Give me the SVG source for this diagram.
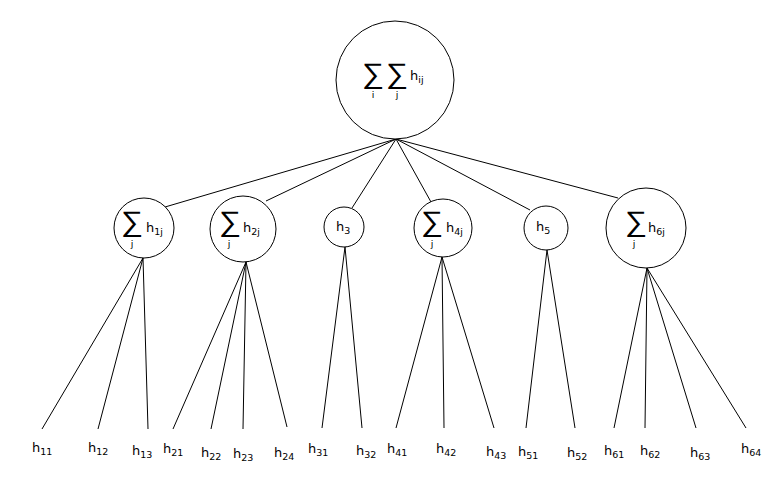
<svg xmlns="http://www.w3.org/2000/svg" width="784" height="482" viewBox="0 0 784 482">
  <style>
    .node { fill: #ffffff; stroke: #000000; stroke-width: 1; }
    .edge { stroke: #000000; stroke-width: 1; fill: none; }
    text { font-family: "DejaVu Sans", "Liberation Sans", sans-serif; fill: #000000; }
    .h { font-size: 13px; }
    .sub { font-size: 9.5px; }
    .sum { font-size: 27px; font-weight: 200; }
    .idx { font-size: 9.5px; text-anchor: middle; }
  </style>
  <rect width="784" height="482" fill="#ffffff"/>

  <!-- connectors -->
  <g id="connectors">
    <!-- root to second level -->
    <line class="edge" x1="396" y1="139" x2="165" y2="207"/>
    <line class="edge" x1="396" y1="139" x2="266" y2="201"/>
    <line class="edge" x1="396" y1="139" x2="352" y2="208"/>
    <line class="edge" x1="396" y1="139" x2="431" y2="202"/>
    <line class="edge" x1="396" y1="139" x2="530" y2="210"/>
    <line class="edge" x1="396" y1="139" x2="618" y2="198"/>
    <!-- second level to leaves -->
    <line class="edge" x1="143" y1="258" x2="42" y2="429"/>
    <line class="edge" x1="143" y1="258" x2="98" y2="429"/>
    <line class="edge" x1="143" y1="258" x2="148" y2="429"/>
    <line class="edge" x1="246" y1="262" x2="173" y2="429"/>
    <line class="edge" x1="246" y1="262" x2="211" y2="429"/>
    <line class="edge" x1="246" y1="262" x2="243" y2="429"/>
    <line class="edge" x1="246" y1="262" x2="287" y2="427"/>
    <line class="edge" x1="345" y1="247" x2="322" y2="428"/>
    <line class="edge" x1="345" y1="247" x2="362" y2="428"/>
    <line class="edge" x1="442" y1="257" x2="396" y2="428"/>
    <line class="edge" x1="442" y1="257" x2="444" y2="428"/>
    <line class="edge" x1="442" y1="257" x2="494" y2="428"/>
    <line class="edge" x1="547" y1="250" x2="526" y2="428"/>
    <line class="edge" x1="547" y1="250" x2="575" y2="428"/>
    <line class="edge" x1="647" y1="268" x2="614" y2="428"/>
    <line class="edge" x1="647" y1="268" x2="645" y2="428"/>
    <line class="edge" x1="647" y1="268" x2="696" y2="428"/>
    <line class="edge" x1="647" y1="268" x2="746" y2="428"/>
  </g>

  <!-- root: double sum -->
  <g id="root">
    <circle class="node" cx="395" cy="80" r="59"/>
    <text class="sum" transform="translate(362,83) scale(1.15,1.05)">∑</text>
    <text class="sum" transform="translate(386,83) scale(1.15,1.05)">∑</text>
    <text class="idx" x="373" y="98">i</text>
    <text class="idx" x="397" y="98">j</text>
    <text class="h" x="410" y="80">h<tspan class="sub" dy="3">ij</tspan></text>
  </g>

  <!-- second level -->
  <g id="n1">
    <circle class="node" cx="144" cy="228" r="30"/>
    <text class="sum" transform="translate(121,231) scale(1.15,1.05)">∑</text>
    <text class="idx" x="132" y="247">j</text>
    <text class="h" x="146" y="232">h<tspan class="sub" dy="3">1j</tspan></text>
  </g>
  <g id="n2">
    <circle class="node" cx="243" cy="229" r="33"/>
    <text class="sum" transform="translate(219,231) scale(1.15,1.05)">∑</text>
    <text class="idx" x="229" y="247">j</text>
    <text class="h" x="243" y="232">h<tspan class="sub" dy="3">2j</tspan></text>
  </g>
  <g id="n3">
    <circle class="node" cx="344" cy="227" r="20"/>
    <text class="h" x="336" y="231">h<tspan class="sub" dy="3">3</tspan></text>
  </g>
  <g id="n4">
    <circle class="node" cx="443" cy="228" r="29"/>
    <text class="sum" transform="translate(421,231) scale(1.15,1.05)">∑</text>
    <text class="idx" x="432" y="247">j</text>
    <text class="h" x="446" y="232">h<tspan class="sub" dy="3">4j</tspan></text>
  </g>
  <g id="n5">
    <circle class="node" cx="546" cy="228" r="22"/>
    <text class="h" x="536" y="231">h<tspan class="sub" dy="3">5</tspan></text>
  </g>
  <g id="n6">
    <circle class="node" cx="646" cy="228" r="40"/>
    <text class="sum" transform="translate(625,231) scale(1.15,1.05)">∑</text>
    <text class="idx" x="634" y="247">j</text>
    <text class="h" x="648" y="232">h<tspan class="sub" dy="3">6j</tspan></text>
  </g>

  <!-- leaves -->
  <g id="leaves">
    <text id="h11" class="h" x="32" y="452">h<tspan class="sub" dy="3">11</tspan></text>
    <text id="h12" class="h" x="88" y="452">h<tspan class="sub" dy="3">12</tspan></text>
    <text id="h13" class="h" x="132" y="455">h<tspan class="sub" dy="3">13</tspan></text>
    <text id="h21" class="h" x="163" y="453">h<tspan class="sub" dy="3">21</tspan></text>
    <text id="h22" class="h" x="201" y="457">h<tspan class="sub" dy="3">22</tspan></text>
    <text id="h23" class="h" x="233" y="458">h<tspan class="sub" dy="3">23</tspan></text>
    <text id="h24" class="h" x="274" y="457">h<tspan class="sub" dy="3">24</tspan></text>
    <text id="h31" class="h" x="308" y="453">h<tspan class="sub" dy="3">31</tspan></text>
    <text id="h32" class="h" x="356" y="455">h<tspan class="sub" dy="3">32</tspan></text>
    <text id="h41" class="h" x="387" y="453">h<tspan class="sub" dy="3">41</tspan></text>
    <text id="h42" class="h" x="436" y="453">h<tspan class="sub" dy="3">42</tspan></text>
    <text id="h43" class="h" x="486" y="456">h<tspan class="sub" dy="3">43</tspan></text>
    <text id="h51" class="h" x="518" y="456">h<tspan class="sub" dy="3">51</tspan></text>
    <text id="h52" class="h" x="567" y="457">h<tspan class="sub" dy="3">52</tspan></text>
    <text id="h61" class="h" x="604" y="455">h<tspan class="sub" dy="3">61</tspan></text>
    <text id="h62" class="h" x="640" y="455">h<tspan class="sub" dy="3">62</tspan></text>
    <text id="h63" class="h" x="690" y="457">h<tspan class="sub" dy="3">63</tspan></text>
    <text id="h64" class="h" x="741" y="453">h<tspan class="sub" dy="3">64</tspan></text>
  </g>
</svg>
